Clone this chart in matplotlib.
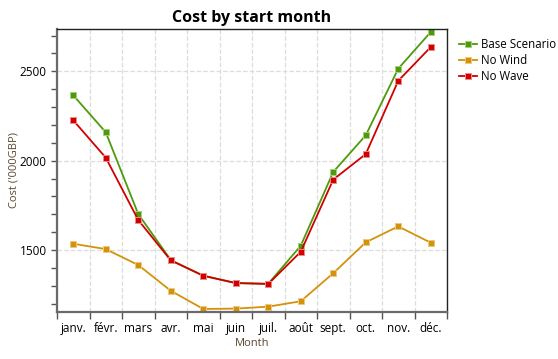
import matplotlib
matplotlib.use("Agg")
import matplotlib.pyplot as plt
import numpy as np
from matplotlib.ticker import FixedLocator, MultipleLocator, NullFormatter

months = ["janv.", "févr.", "mars", "avr.", "mai", "juin", "juil.", "août",
          "sept.", "oct.", "nov.", "déc."]
base_scenario = [2366, 2159, 1701, 1444, 1356, 1315, 1311, 1524, 1937, 2142, 2515, 2720]
no_wind = [1535, 1505, 1416, 1272, 1170, 1172, 1183, 1213, 1370, 1543, 1632, 1541]
no_wave = [2226, 2017, 1668, 1442, 1356, 1315, 1310, 1490, 1894, 2037, 2447, 2636]

series = [
    ("Base Scenario", base_scenario, "#4f9a0c", "#a6d07a"),
    ("No Wind", no_wind, "#d4920c", "#ecc87a"),
    ("No Wave", no_wave, "#d00000", "#ee8a8a"),
]

plt.rcParams['font.family'] = ['Open Sans', 'DejaVu Sans']

fig = plt.figure(figsize=(5.58, 3.59), dpi=100)
ax = fig.add_axes([57/558, 1-312/359, (447-57)/558, (312-29)/359])

x = np.arange(len(months))
for name, vals, col, edge in series:
    ax.plot(x, vals, color=col, lw=1.3, marker='s', ms=4.6, mfc=col,
            mec=edge, mew=0.7, label=name)

ax.set_xlim(-0.5, 11.5)
ax.set_ylim(1153, 2737)

ax.xaxis.set_major_locator(FixedLocator(np.arange(-0.5, 12.0, 1.0)))
ax.xaxis.set_major_formatter(NullFormatter())
ax.xaxis.set_minor_locator(FixedLocator(x))
ax.set_xticklabels(months, minor=True)
ax.tick_params(axis='x', which='major', direction='out', length=5, width=1, color='#555555')
ax.tick_params(axis='x', which='minor', length=0, labelsize=8.5, pad=7)

ax.yaxis.set_major_locator(MultipleLocator(500))
ax.yaxis.set_minor_locator(MultipleLocator(100))
ax.tick_params(axis='y', which='both', direction='out', length=4, width=1, color='#555555', labelsize=8.5)

ax.grid(True, which='major', axis='both', color='#dddddd', linestyle='--', lw=0.9)
ax.set_axisbelow(True)

for s in ['left', 'bottom']:
    ax.spines[s].set_color('#6a6a6a')
    ax.spines[s].set_linewidth(1.6)
for s in ['top', 'right']:
    ax.spines[s].set_color('#222222')
    ax.spines[s].set_linewidth(1.0)

ax.set_title("Cost by start month", fontsize=11.5, fontweight='bold', pad=5)
ax.set_xlabel("Month", fontsize=8, color='#5a4630', va='center')
ax.xaxis.set_label_coords(0.5, -(343-312)/283, transform=ax.transAxes)
ax.set_ylabel("Cost ('000GBP)", fontsize=8, color='#5a4630', va='center')
ax.yaxis.set_label_coords(-(57-14)/390, 0.5, transform=ax.transAxes)

leg = ax.legend(loc='upper left', bbox_to_anchor=(1.02, 0.985), frameon=False,
                fontsize=8.3, handlelength=1.5, handletextpad=0.4,
                labelspacing=0.25, borderaxespad=0.0)

fig.savefig("out.png", dpi=100)
